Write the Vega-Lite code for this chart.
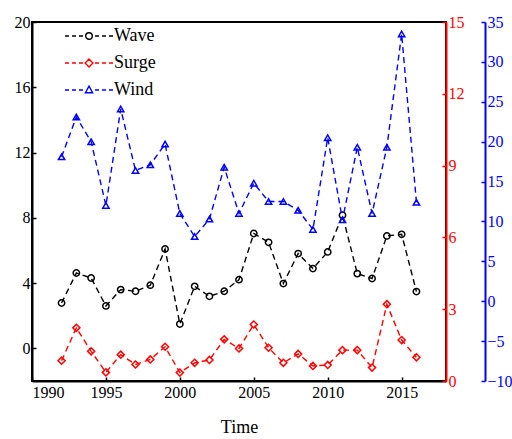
{
  "$schema": "https://vega.github.io/schema/vega-lite/v6.json",
  "autosize": {"type": "none"},
  "padding": {"left": 32, "top": 22, "right": 66, "bottom": 58},
  "width": 414,
  "height": 359,
  "config": {
    "font": "Liberation Serif",
    "view": {"stroke": "black", "strokeWidth": 2},
    "axis": {"grid": false, "labelFont": "Liberation Serif", "titleFont": "Liberation Serif", "labelFontSize": 16, "titleFontSize": 18, "titleFontWeight": "normal", "domainWidth": 2, "tickWidth": 1.5, "tickSize": -4}
  },
  "data": {"values": [
    {"year": 1992, "series": "Wave", "value": 2.78}, {"year": 1993, "series": "Wave", "value": 4.62}, {"year": 1994, "series": "Wave", "value": 4.31}, {"year": 1995, "series": "Wave", "value": 2.6}, {"year": 1996, "series": "Wave", "value": 3.6}, {"year": 1997, "series": "Wave", "value": 3.5}, {"year": 1998, "series": "Wave", "value": 3.87}, {"year": 1999, "series": "Wave", "value": 6.09}, {"year": 2000, "series": "Wave", "value": 1.49}, {"year": 2001, "series": "Wave", "value": 3.8}, {"year": 2002, "series": "Wave", "value": 3.19}, {"year": 2003, "series": "Wave", "value": 3.5}, {"year": 2004, "series": "Wave", "value": 4.21}, {"year": 2005, "series": "Wave", "value": 7.04}, {"year": 2006, "series": "Wave", "value": 6.5}, {"year": 2007, "series": "Wave", "value": 3.97}, {"year": 2008, "series": "Wave", "value": 5.81}, {"year": 2009, "series": "Wave", "value": 4.89}, {"year": 2010, "series": "Wave", "value": 5.91}, {"year": 2011, "series": "Wave", "value": 8.16}, {"year": 2012, "series": "Wave", "value": 4.58}, {"year": 2013, "series": "Wave", "value": 4.28}, {"year": 2014, "series": "Wave", "value": 6.89}, {"year": 2015, "series": "Wave", "value": 6.99}, {"year": 2016, "series": "Wave", "value": 3.48},
    {"year": 1992, "series": "Surge", "value": 0.85}, {"year": 1993, "series": "Surge", "value": 2.22}, {"year": 1994, "series": "Surge", "value": 1.24}, {"year": 1995, "series": "Surge", "value": 0.36}, {"year": 1996, "series": "Surge", "value": 1.1}, {"year": 1997, "series": "Surge", "value": 0.69}, {"year": 1998, "series": "Surge", "value": 0.9}, {"year": 1999, "series": "Surge", "value": 1.43}, {"year": 2000, "series": "Surge", "value": 0.35}, {"year": 2001, "series": "Surge", "value": 0.76}, {"year": 2002, "series": "Surge", "value": 0.88}, {"year": 2003, "series": "Surge", "value": 1.74}, {"year": 2004, "series": "Surge", "value": 1.36}, {"year": 2005, "series": "Surge", "value": 2.36}, {"year": 2006, "series": "Surge", "value": 1.39}, {"year": 2007, "series": "Surge", "value": 0.76}, {"year": 2008, "series": "Surge", "value": 1.13}, {"year": 2009, "series": "Surge", "value": 0.63}, {"year": 2010, "series": "Surge", "value": 0.67}, {"year": 2011, "series": "Surge", "value": 1.29}, {"year": 2012, "series": "Surge", "value": 1.29}, {"year": 2013, "series": "Surge", "value": 0.56}, {"year": 2014, "series": "Surge", "value": 3.21}, {"year": 2015, "series": "Surge", "value": 1.71}, {"year": 2016, "series": "Surge", "value": 0.99},
    {"year": 1992, "series": "Wind", "value": 18.1}, {"year": 1993, "series": "Wind", "value": 23.1}, {"year": 1994, "series": "Wind", "value": 20.0}, {"year": 1995, "series": "Wind", "value": 12.0}, {"year": 1996, "series": "Wind", "value": 24.1}, {"year": 1997, "series": "Wind", "value": 16.4}, {"year": 1998, "series": "Wind", "value": 17.1}, {"year": 1999, "series": "Wind", "value": 19.7}, {"year": 2000, "series": "Wind", "value": 11.0}, {"year": 2001, "series": "Wind", "value": 8.1}, {"year": 2002, "series": "Wind", "value": 10.3}, {"year": 2003, "series": "Wind", "value": 16.8}, {"year": 2004, "series": "Wind", "value": 11.0}, {"year": 2005, "series": "Wind", "value": 14.8}, {"year": 2006, "series": "Wind", "value": 12.5}, {"year": 2007, "series": "Wind", "value": 12.5}, {"year": 2008, "series": "Wind", "value": 11.4}, {"year": 2009, "series": "Wind", "value": 9.0}, {"year": 2010, "series": "Wind", "value": 20.5}, {"year": 2011, "series": "Wind", "value": 10.2}, {"year": 2012, "series": "Wind", "value": 19.3}, {"year": 2013, "series": "Wind", "value": 11.0}, {"year": 2014, "series": "Wind", "value": 19.3}, {"year": 2015, "series": "Wind", "value": 33.5}, {"year": 2016, "series": "Wind", "value": 12.4}
  ]},
  "encoding": {
    "x": {"field": "year", "type": "quantitative", "scale": {"domain": [1990, 2018], "nice": false, "zero": false},
      "axis": {"values": [1990, 1995, 2000, 2005, 2010, 2015], "format": "d", "title": "Time", "titlePadding": 18, "labelPadding": 7, "labelFont": "Liberation Serif", "titleFont": "Liberation Serif", "domainColor": "black", "tickColor": "black", "labelColor": "black", "titleColor": "black"}},
    "color": {"field": "series", "type": "nominal",
      "scale": {"domain": ["Wave", "Surge", "Wind"], "range": ["black", "red", "blue"]},
      "legend": {"orient": "none", "legendX": 30, "legendY": 5, "title": null, "padding": 0, "labelFont": "Liberation Serif", "labelFontSize": 18, "labelColor": "black", "labelOffset": 34, "symbolSize": 144, "rowPadding": 9, "symbolStrokeWidth": 1.4,
        "encode": {"symbols": {"update": {
          "shape": {"signal": "datum.value === 'Wave' ? 'M-1,0H-0.33M0.17,0H0.83M1.33,0H2M3.55,0A0.55,0.55 0 1,1 2.45,0A0.55,0.55 0 1,1 3.55,0M4,0H4.67M5.17,0H5.83M6.33,0H7' : datum.value === 'Surge' ? 'M-1,0H-0.33M0.17,0H0.83M1.33,0H2M3,-0.65L3.65,0L3,0.65L2.35,0ZM4,0H4.67M5.17,0H5.83M6.33,0H7' : 'M-1,0H-0.33M0.17,0H0.83M1.33,0H2M3,-0.65L3.6,0.45L2.4,0.45ZM4,0H4.67M5.17,0H5.83M6.33,0H7'"},
          "fill": {"value": "transparent"},
          "fillOpacity": {"value": 0}
        }}}}
    }
  },
  "layer": [
    {
      "transform": [{"filter": "datum.series === 'Wave'"}],
      "encoding": {"y": {"field": "value", "type": "quantitative", "scale": {"domain": [-2, 20], "nice": false, "zero": false},
        "axis": {"orient": "left", "values": [0, 4, 8, 12, 16, 20], "title": null, "labelPadding": 6, "labelFont": "Liberation Serif", "domainColor": "black", "tickColor": "black", "labelColor": "black"}}},
      "layer": [
        {"mark": {"type": "line", "strokeDash": [6, 4], "strokeWidth": 1.4}},
        {"mark": {"type": "point", "shape": "circle", "filled": false, "size": 40, "strokeWidth": 1.5, "opacity": 1}}
      ]
    },
    {
      "transform": [{"filter": "datum.series === 'Surge'"}],
      "encoding": {"y": {"field": "value", "type": "quantitative", "scale": {"domain": [0, 15], "nice": false, "zero": false},
        "axis": {"orient": "right", "values": [0, 3, 6, 9, 12, 15], "title": null, "labelPadding": 6, "labelFont": "Liberation Serif", "domainColor": "red", "tickColor": "red", "labelColor": "red"}}},
      "layer": [
        {"mark": {"type": "line", "strokeDash": [6, 4], "strokeWidth": 1.4}},
        {"mark": {"type": "point", "shape": "diamond", "filled": false, "size": 50, "strokeWidth": 1.5, "opacity": 1}}
      ]
    },
    {
      "transform": [{"filter": "datum.series === 'Wind'"}],
      "encoding": {"y": {"field": "value", "type": "quantitative", "scale": {"domain": [-10, 35], "nice": false, "zero": false},
        "axis": {"orient": "right", "offset": 39, "values": [-10, -5, 0, 5, 10, 15, 20, 25, 30, 35], "title": null, "labelPadding": 6, "labelFont": "Liberation Serif", "domainColor": "blue", "tickColor": "blue", "labelColor": "blue"}}},
      "layer": [
        {"mark": {"type": "line", "strokeDash": [6, 4], "strokeWidth": 1.4}},
        {"mark": {"type": "point", "shape": "triangle-up", "filled": false, "size": 40, "strokeWidth": 1.5, "opacity": 1}}
      ]
    }
  ],
  "resolve": {"scale": {"y": "independent"}}
}
